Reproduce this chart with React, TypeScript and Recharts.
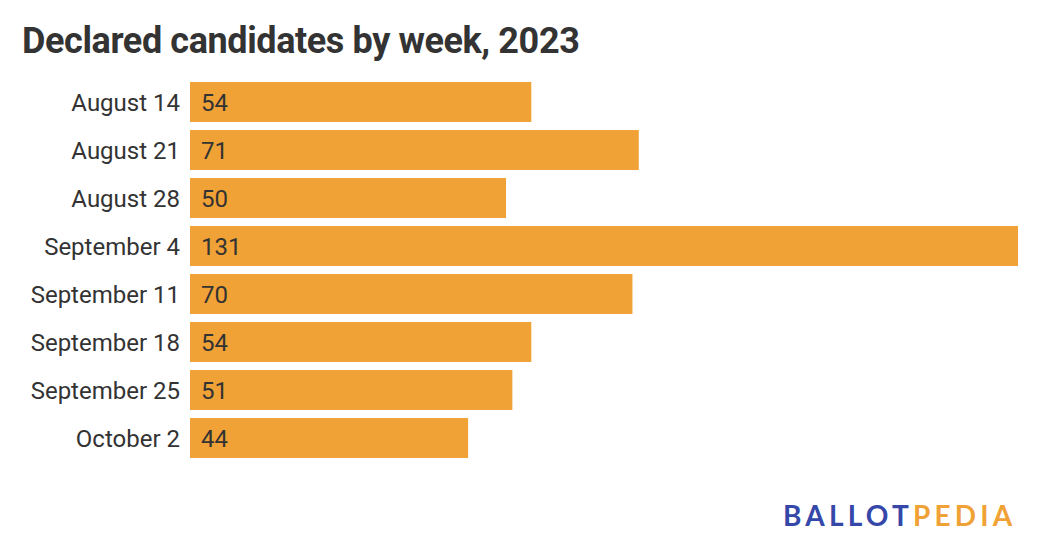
import { Bar, BarChart, LabelList, XAxis, YAxis } from "recharts";

const weeks = [
  "August 14",
  "August 21",
  "August 28",
  "September 4",
  "September 11",
  "September 18",
  "September 25",
  "October 2",
];
const candidates = [54, 71, 50, 131, 70, 54, 51, 44];

const data = weeks.map((week, i) => ({ week, count: candidates[i] }));

const FONT = "Roboto, 'Noto Sans', sans-serif";

export default function App() {
  return (
    <div
      style={{
        position: "absolute",
        left: 0,
        top: 0,
        width: 1040,
        height: 560,
        background: "#fff",
        fontFamily: FONT,
      }}
    >
      <div
        style={{
          position: "absolute",
          left: 22,
          top: 20,
          fontSize: 36,
          fontWeight: 700,
          color: "#333",
          letterSpacing: -0.4,
        }}
      >
        Declared candidates by week, 2023
      </div>

      <BarChart
        width={1040}
        height={560}
        data={data}
        layout="vertical"
        margin={{ top: 78, right: 22, bottom: 98, left: 0 }}
        barCategoryGap={4}
      >
        <XAxis type="number" domain={[0, 131]} hide />
        <YAxis
          type="category"
          dataKey="week"
          width={190}
          axisLine={false}
          tickLine={false}
          tickSize={0}
          tickMargin={10}
          tick={{ fill: "#333", fontSize: 24, fontFamily: FONT }}
        />
        <Bar dataKey="count" fill="#f0a236" isAnimationActive={false}>
          <LabelList
            dataKey="count"
            position="insideLeft"
            offset={11}
            fill="#333"
            fontSize={24}
            fontFamily={FONT}
          />
        </Bar>
      </BarChart>

      <div
        style={{
          position: "absolute",
          left: 783,
          top: 498,
          fontSize: 28,
          fontWeight: 700,
          letterSpacing: 4.2,
          fontFamily: "Lato, 'Open Sans', sans-serif",
        }}
      >
        <span style={{ color: "#3548a9" }}>BALLOT</span>
        <span style={{ color: "#f0a236" }}>PEDIA</span>
      </div>
    </div>
  );
}
